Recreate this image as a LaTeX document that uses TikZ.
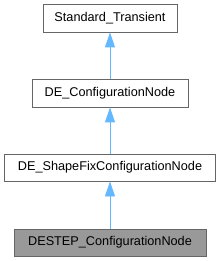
\documentclass[tikz,border=0pt]{standalone}
\usepackage{fontspec}
\setmainfont{Liberation Sans}
\usetikzlibrary{arrows.meta}
\definecolor{edgeblue}{HTML}{63B8FF}
\definecolor{boxborder}{HTML}{666666}
\definecolor{curfill}{HTML}{999999}
\tikzset{
  cls/.style={draw=boxborder, line width=0.9pt, fill=white, inner sep=0pt, font=\fontsize{12.7}{14}\selectfont, text=black},
  cur/.style={cls, fill=curfill},
  inh/.style={draw=edgeblue, line width=0.9pt, -{Triangle[width=10pt,length=15pt,fill=edgeblue]}}
}
\begin{document}
\begin{tikzpicture}[x=1pt,y=-1pt]
\useasboundingbox (0,0) rectangle (221,261);
\node[cls, minimum width=134pt, minimum height=28pt] (a) at (110,18) {Standard\_Transient};
\node[cls, minimum width=156pt, minimum height=28pt] (b) at (110,93) {DE\_ConfigurationNode};
\node[cls, minimum width=211pt, minimum height=27pt] (c) at (110,167.5) {DE\_ShapeFixConfigurationNode};
\node[cur, minimum width=192pt, minimum height=27pt] (d) at (110,242.5) {DESTEP\_ConfigurationNode};
\draw[inh] (b.north) -- (a.south);
\draw[inh] (c.north) -- (b.south);
\draw[inh] (d.north) -- (c.south);
\end{tikzpicture}
\end{document}
